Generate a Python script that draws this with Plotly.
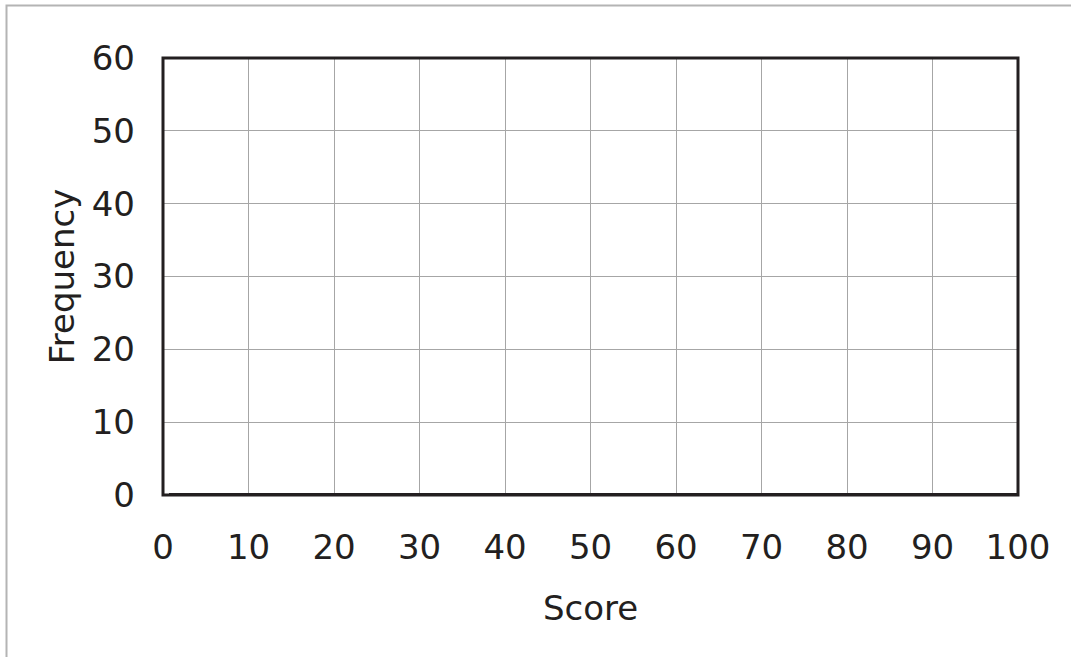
import plotly.graph_objects as go

x_ticks = [0, 10, 20, 30, 40, 50, 60, 70, 80, 90, 100]
y_ticks = [0, 10, 20, 30, 40, 50, 60]
x_title = "Score"
y_title = "Frequency"

INK = "#231f20"
GRID = "#a6a6a6"
FONT = "DejaVu Sans"
FS = 34

fig = go.Figure()
fig.add_trace(go.Scatter(x=[x_ticks[0] + 0.7, x_ticks[-1]], y=[y_ticks[0], y_ticks[0]],
                         mode="lines", line=dict(color=INK, width=4),
                         hoverinfo="skip", showlegend=False, cliponaxis=False))

fig.update_layout(
    width=1071, height=657,
    margin=dict(l=163, r=53, t=58, b=162, pad=0),
    paper_bgcolor="white", plot_bgcolor="white",
    font=dict(family=FONT, color=INK, size=FS),
    showlegend=False,
)
fig.update_xaxes(
    range=[x_ticks[0], x_ticks[-1]], tickvals=x_ticks, ticktext=[str(v) for v in x_ticks],
    showgrid=True, gridcolor=GRID, gridwidth=1, zeroline=False,
    showline=False, ticks="", ticklabelstandoff=29,
    tickfont=dict(size=FS, family=FONT, color=INK),
    title=dict(text=x_title, font=dict(size=FS, family=FONT, color=INK), standoff=30),
)
fig.update_yaxes(
    range=[y_ticks[0], y_ticks[-1]], tickvals=y_ticks, ticktext=[str(v) for v in y_ticks],
    showgrid=True, gridcolor=GRID, gridwidth=1, zeroline=False,
    showline=False, ticks="", ticklabelstandoff=27,
    tickfont=dict(size=FS, family=FONT, color=INK),
    title=dict(text=y_title, font=dict(size=FS, family=FONT, color=INK), standoff=6),
)

# plot frame (left/top/right)
fig.add_shape(type="rect", xref="paper", yref="paper", x0=0, x1=1, y0=0, y1=1,
              line=dict(color=INK, width=3), layer="above")
# outer light border
fig.add_shape(type="rect", xref="paper", yref="paper",
              x0=(6.5 - 163) / 855, x1=3, y0=-3, y1=(495 - 5.5) / 437,
              line=dict(color="#b4b4b4", width=2), layer="below")

fig.write_html("out.html", config={"displayModeBar": False},
               post_script="document.body.style.margin='0';")
